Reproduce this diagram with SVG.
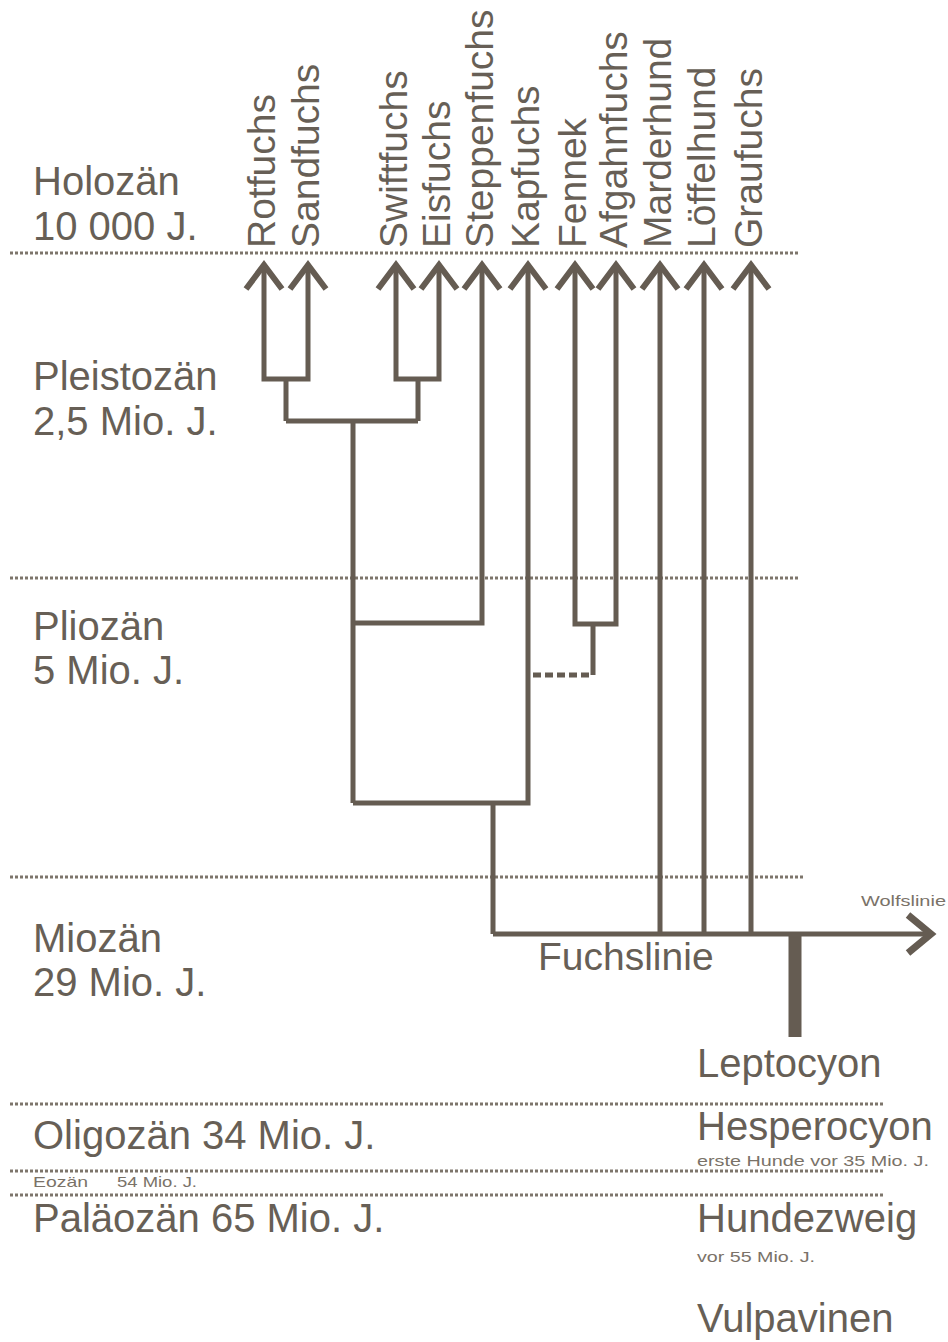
<svg xmlns="http://www.w3.org/2000/svg" width="948" height="1342" viewBox="0 0 948 1342">
<style>
.t{font-family:"Liberation Sans",Arial,sans-serif;fill:#675f56;font-size:40px}
.r{font-family:"Liberation Sans",Arial,sans-serif;fill:#675f56;font-size:39px}
.s{font-family:"Liberation Sans",Arial,sans-serif;fill:#7a7268;font-size:15px}
.ep{stroke:#7d756b;stroke-width:3;stroke-dasharray:3 2;fill:none}
.ln{stroke:#655c52;stroke-width:5;fill:none;stroke-linejoin:miter}
.ah{stroke:#655c52;stroke-width:6;fill:none;stroke-linejoin:miter;stroke-linecap:butt}
</style>
<rect width="948" height="1342" fill="#ffffff"/>
<g id="epochs">
<line class="ep" x1="10" y1="253" x2="800" y2="253"/>
<line class="ep" x1="10" y1="578" x2="800" y2="578"/>
<line class="ep" x1="10" y1="877" x2="803" y2="877"/>
<line class="ep" x1="10" y1="1104" x2="885" y2="1104"/>
<line class="ep" x1="10" y1="1171" x2="885" y2="1171"/>
<line class="ep" x1="10" y1="1195" x2="885" y2="1195"/>
</g>
<g id="epoch-labels">
<g id="holozaen"><text class="t" x="33" y="195">Holozän</text><text class="t" x="33" y="240">10 000 J.</text></g>
<g id="pleistozaen"><text class="t" x="33" y="390">Pleistozän</text><text class="t" x="33" y="435">2,5 Mio. J.</text></g>
<g id="pliozaen"><text class="t" x="33" y="640">Pliozän</text><text class="t" x="33" y="684">5 Mio. J.</text></g>
<g id="miozaen"><text class="t" x="33" y="952">Miozän</text><text class="t" x="33" y="996">29 Mio. J.</text></g>
<g id="oligozaen"><text class="t" x="33" y="1149">Oligozän 34 Mio. J.</text></g>
<g id="eozaen"><text class="s" x="33" y="1187" textLength="55" lengthAdjust="spacingAndGlyphs">Eozän</text><text class="s" x="117" y="1187" textLength="80" lengthAdjust="spacingAndGlyphs">54 Mio. J.</text></g>
<g id="palaeozaen"><text class="t" x="33" y="1232">Paläozän 65 Mio. J.</text></g>
</g>
<g id="species">
<g id="rotfuchs"><text class="r" transform="translate(275,248) rotate(-90)">Rotfuchs</text></g>
<g id="sandfuchs"><text class="r" transform="translate(319,248) rotate(-90)">Sandfuchs</text></g>
<g id="swiftfuchs"><text class="r" transform="translate(407,248) rotate(-90)">Swiftfuchs</text></g>
<g id="eisfuchs"><text class="r" transform="translate(450,248) rotate(-90)">Eisfuchs</text></g>
<g id="steppenfuchs"><text class="r" transform="translate(493,248) rotate(-90)">Steppenfuchs</text></g>
<g id="kapfuchs"><text class="r" transform="translate(539,248) rotate(-90)">Kapfuchs</text></g>
<g id="fennek"><text class="r" transform="translate(586,248) rotate(-90)">Fennek</text></g>
<g id="afgahnfuchs"><text class="r" transform="translate(627,248) rotate(-90)">Afgahnfuchs</text></g>
<g id="marderhund"><text class="r" transform="translate(671,248) rotate(-90)">Marderhund</text></g>
<g id="loeffelhund"><text class="r" transform="translate(715,248) rotate(-90)">Löffelhund</text></g>
<g id="graufuchs"><text class="r" transform="translate(762,248) rotate(-90)">Graufuchs</text></g>
</g>
<g id="lineages">
<g id="fuchslinie"><text class="r" x="538" y="970">Fuchslinie</text></g>
<g id="wolfslinie"><text class="s" x="861" y="906" textLength="85" lengthAdjust="spacingAndGlyphs">Wolfslinie</text></g>
<g id="leptocyon"><text class="t" x="697" y="1077">Leptocyon</text></g>
<g id="hesperocyon"><text class="t" x="697" y="1140">Hesperocyon</text><text class="s" x="697" y="1166" textLength="232" lengthAdjust="spacingAndGlyphs">erste Hunde vor 35 Mio. J.</text></g>
<g id="hundezweig"><text class="t" x="697" y="1232">Hundezweig</text><text class="s" x="697" y="1262" textLength="118" lengthAdjust="spacingAndGlyphs">vor 55 Mio. J.</text></g>
<g id="vulpavinen"><text class="t" x="697" y="1332">Vulpavinen</text></g>
</g>
<g id="connectors">
<path class="ln" d="M264,266 V379 H308 V266 M286,379 V421 M396,266 V379 H439 V266 M418,379 V421 M286,421 H418 M353,421 V803 M482,266 V623 H353 M528,266 V803 H353 M493,803 V934 M575,266 V624 H616 V266 M593,624 V675 M660,266 V934 M704,266 V934 M751,266 V934 M493,934 H930"/>
<path class="ln" d="M533,675 H593" stroke-dasharray="8 4"/>
<path d="M795,934 V1037" stroke="#655c52" stroke-width="13" fill="none"/>
<g class="ah">
<path d="M246,289 L264,265 L282,289"/>
<path d="M290,289 L308,265 L326,289"/>
<path d="M378,289 L396,265 L414,289"/>
<path d="M421,289 L439,265 L457,289"/>
<path d="M464,289 L482,265 L500,289"/>
<path d="M510,289 L528,265 L546,289"/>
<path d="M557,289 L575,265 L593,289"/>
<path d="M598,289 L616,265 L634,289"/>
<path d="M642,289 L660,265 L678,289"/>
<path d="M686,289 L704,265 L722,289"/>
<path d="M733,289 L751,265 L769,289"/>
<path d="M908,915 L931,934 L908,953" stroke-width="7"/>
</g>
</g>
</svg>
